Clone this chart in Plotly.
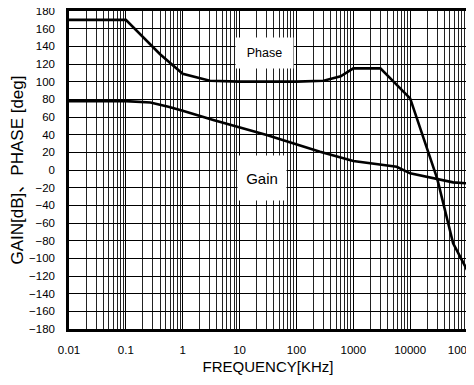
import plotly.graph_objects as go

# Data (frequency in kHz)
phase_freq = [0.01, 0.1, 0.4, 1, 3, 10, 100, 300, 600, 1000, 3000, 10000, 30000, 57000, 100000]
phase_deg = [170, 170, 131, 109, 101, 100, 100, 101, 106, 115, 115, 81, -10, -83, -113]

gain_freq = [0.01, 0.1, 0.27, 0.56, 1, 3.45, 30, 260, 1000, 5800, 10000, 29000, 57000, 100000]
gain_db = [78, 78, 76.5, 71.7, 67, 56.6, 39.6, 20.7, 10.2, 3.7, -3.8, -10.5, -14, -15]

x_tickvals = [0.01, 0.1, 1, 10, 100, 1000, 10000, 100000]
x_ticktext = ["0.01", "0.1", "1", "10", "100", "1000", "10000", "100000"]
y_tickvals = list(range(-180, 181, 20))
y_ticktext = [("\u2212" + str(-v)) if v < 0 else str(v) for v in y_tickvals]

FONT = "Liberation Sans, Arial, Noto Sans CJK JP, sans-serif"

fig = go.Figure()
fig.add_trace(go.Scatter(x=phase_freq, y=phase_deg, mode="lines",
                         line=dict(color="black", width=2.6), showlegend=False))
fig.add_trace(go.Scatter(x=gain_freq, y=gain_db, mode="lines",
                         line=dict(color="black", width=2.6), showlegend=False))

fig.add_annotation(x=1.447, y=132.5, xref="x", yref="y", text="Phase", showarrow=False,
                   font=dict(size=12.5, color="black", family=FONT),
                   bgcolor="white", width=55, height=28)
fig.add_annotation(x=1.394, y=-9, xref="x", yref="y", text="Gain", showarrow=False,
                   font=dict(size=15, color="black", family=FONT),
                   bgcolor="white", width=46, height=42)

fig.update_layout(
    width=474, height=385,
    margin=dict(l=61, r=15, t=3, b=64),
    paper_bgcolor="white", plot_bgcolor="white",
    font=dict(family=FONT, color="black"),
    xaxis=dict(
        type="log", range=[-2, 5], automargin=False,
        tickvals=x_tickvals, ticktext=x_ticktext,
        tickfont=dict(size=11.5, family=FONT),
        ticklabeloverflow="allow",
        showgrid=True, gridcolor="black", gridwidth=1,
        minor=dict(showgrid=True, gridcolor="#222", gridwidth=1, dtick="D1"),
        showline=True, linecolor="black", linewidth=2.5, mirror=True,
        ticks="outside", ticklen=0, ticklabelstandoff=8,
        zeroline=False,
        title=dict(text="FREQUENCY[KHz]", font=dict(size=15, family=FONT), standoff=7),
    ),
    yaxis=dict(
        range=[-180, 180], automargin=False,
        tickvals=y_tickvals, ticktext=y_ticktext,
        tickfont=dict(size=11.5, family=FONT),
        ticklabeloverflow="allow",
        showgrid=True, gridcolor="black", gridwidth=1,
        showline=True, linecolor="black", linewidth=2.5, mirror=True,
        ticks="outside", ticklen=0, ticklabelstandoff=9,
        zeroline=False,
        title=dict(text="GAIN[dB]\u3001PHASE [deg]", font=dict(size=17, family=FONT), standoff=8),
    ),
)

fig.write_html("out.html")
